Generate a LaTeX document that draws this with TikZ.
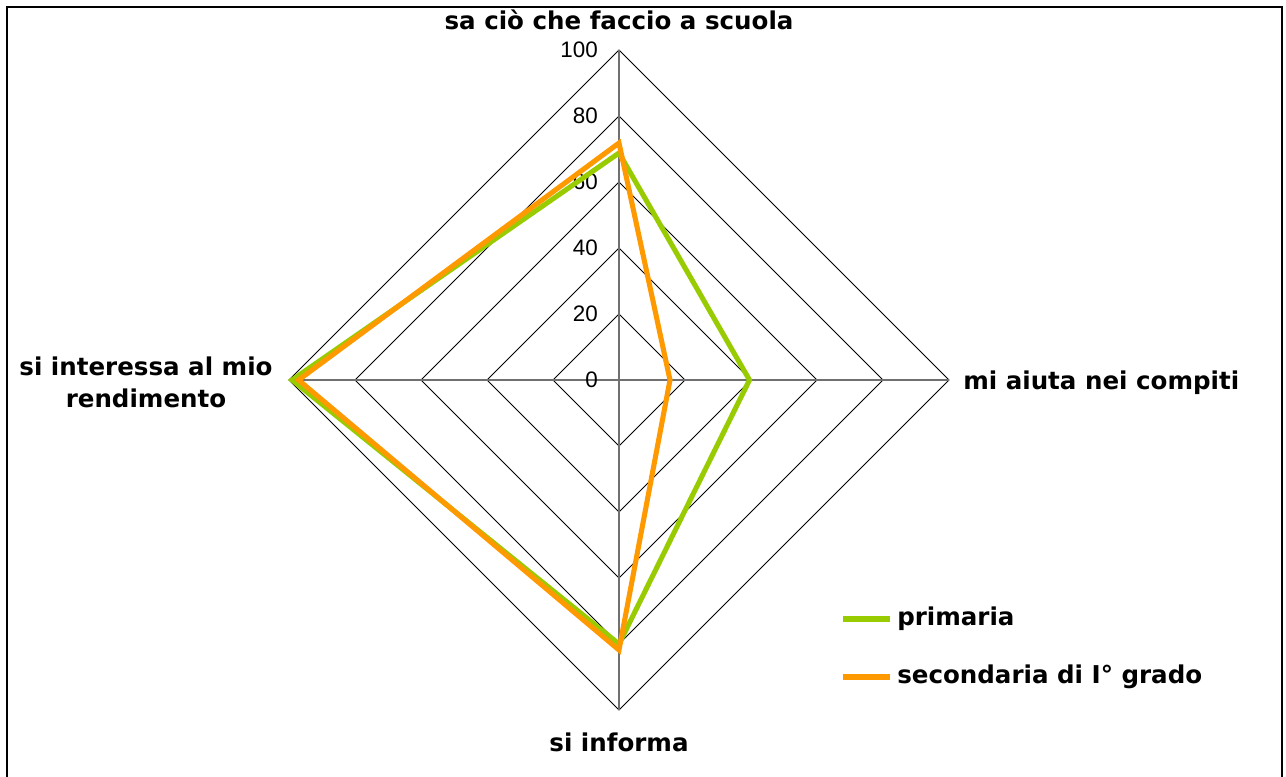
\documentclass[tikz,border=0pt]{standalone}
\usepackage{fontspec}
\setmainfont{DejaVu Sans}
\newfontfamily\tickfont{Liberation Sans}
\usetikzlibrary{calc}
\definecolor{grn}{HTML}{99CC00}
\definecolor{org}{HTML}{FF9900}
\definecolor{axisgray}{HTML}{707070}
\begin{document}
\begin{tikzpicture}[x=0.75pt,y=-0.75pt,
  gridline/.style={black, line width=0.7pt, line join=miter},
  axisline/.style={axisgray, line width=1.1pt},
  ser/.style={line width=3.8pt, line join=miter, miter limit=10},
  lbl/.style={font=\bfseries\fontsize{18.4}{24}\selectfont, inner sep=0pt},
  ticklbl/.style={font=\tickfont\fontsize{16.8}{18}\selectfont, anchor=east, inner sep=0pt},
  legline/.style={line width=3.8pt}]
\useasboundingbox (0,0) rectangle (1286,776);
\fill[white] (0,0) rectangle (1286,776);
\draw[line width=1.5pt] (7,780) -- (7,7) -- (1282,7) -- (1282,780);
\coordinate (c) at (619,380);
% grid
\foreach \r in {66,132,198,264,330}
  \draw[gridline] ($(c)+(0,-\r)$) -- ($(c)+(\r,0)$) -- ($(c)+(0,\r)$) -- ($(c)+(-\r,0)$) -- cycle;
% axes
\coordinate (atop) at (619,50);
\coordinate (aright) at (949,380);
\coordinate (abot) at (619,710);
\coordinate (aleft) at (289,380);
\draw[axisline] (c) -- (atop);
\draw[axisline] (c) -- (aright);
\draw[axisline] (c) -- (abot);
\draw[axisline] (c) -- (aleft);
% tick labels
\node[ticklbl] (t0) at (598,380) {0};
\node[ticklbl] (t20) at (598,314) {20};
\node[ticklbl] (t40) at (598,248) {40};
\node[ticklbl] (t60) at (598,182) {60};
\node[ticklbl] (t80) at (598,116) {80};
\node[ticklbl] (t100) at (598,50) {100};
% series
\draw[ser,grn] (619,153) -- (749.5,380) -- (619,644) -- (292,380) -- cycle;
\draw[ser,org] (619,143) -- (670,380) -- (619,650) -- (298.5,380) -- cycle;
% category labels
\node[lbl] (ltop) at (619,20) {sa ciò che faccio a scuola};
\node[lbl, anchor=west] (lright) at (963,383) {mi aiuta nei compiti};
\node[lbl, align=center] (lleft) at (146,382) {si interessa al mio\\rendimento};
\node[lbl] (lbot) at (619,742) {si informa};
% legend
\coordinate (lg1a) at (843,619); \coordinate (lg1b) at (890,619);
\coordinate (lg2a) at (843,677); \coordinate (lg2b) at (890,677);
\draw[legline,grn] (lg1a) -- (lg1b);
\draw[legline,org] (lg2a) -- (lg2b);
\node[lbl, anchor=west] (leg1) at (897,619) {primaria};
\node[lbl, anchor=west] (leg2) at (897,677) {secondaria di I° grado};
\end{tikzpicture}
\end{document}
